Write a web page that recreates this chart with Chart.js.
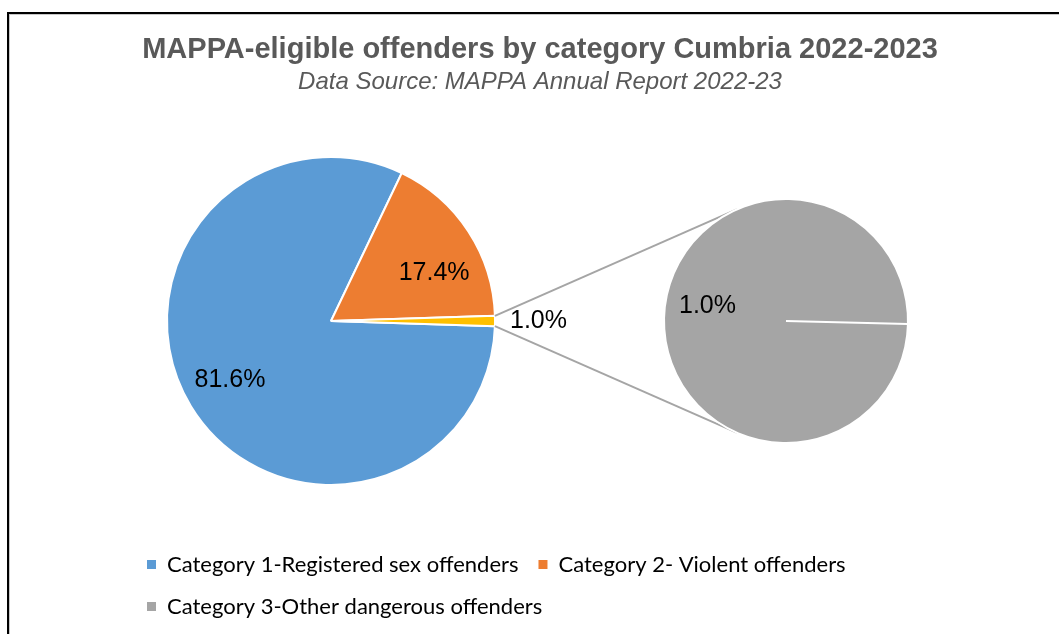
<!DOCTYPE html>
<html>
<head>
<meta charset="utf-8">
<title>MAPPA-eligible offenders by category Cumbria 2022-2023</title>
<script src="https://cdn.jsdelivr.net/npm/chart.js@4.4.1/dist/chart.umd.min.js"></script>
<style>
  html, body { margin: 0; padding: 0; background: #fff; overflow: hidden; }
  #frame {
    position: absolute; left: 7px; top: 12px; width: 1200px; height: 800px;
    border-left: 2px solid #000; border-top: 2px solid #000;
    box-shadow: inset 1px 1px 0 #c8c8c8;
  }
  canvas { position: absolute; left: 0; top: 0; }
</style>
</head>
<body>
<div id="frame"></div>
<canvas id="mainPie" width="1059" height="634"></canvas>
<canvas id="detailPie" width="1059" height="634"></canvas>
<script>
// dados do gráfico
const chartTitle = 'MAPPA-eligible offenders by category Cumbria 2022-2023';
const chartSubtitle = 'Data Source: MAPPA Annual Report 2022-23';
const categories = ['Category 1-Registered sex offenders', 'Category 2- Violent offenders', 'Category 3-Other dangerous offenders'];
const mainLabels = ['Category 1-Registered sex offenders', 'Category 2- Violent offenders', 'Other'];
const mainValues = [81.6, 17.4, 1.0]; // % of all offenders, last slice is the grouped one
const detailLabels = ['Category 3-Other dangerous offenders'];
const detailValues = [1.0];

const mainColors = ['#5B9BD5', '#ED7D31', '#FFC000'];
const detailColors = ['#A5A5A5'];
const legendColors = ['#5B9BD5', '#ED7D31', '#A5A5A5'];
const textGrey = '#595959';
const arial = '"Liberation Sans", Arial, sans-serif';

let detailChart; // segundo gráfico (pie of pie)

// put the main pie where it sits in the original, title/legend keep full width
const pieArea = {
  id: 'pieArea',
  afterLayout(chart, args, opts) {
    const half = opts.radius + opts.border / 2;
    chart.chartArea = {
      left: opts.x - half, right: opts.x + half,
      top: opts.y - half, bottom: opts.y + half,
      width: half * 2, height: half * 2
    };
  }
};

// percentage text on each slice
const sliceLabels = {
  id: 'sliceLabels',
  afterDatasetsDraw(chart, args, opts) {
    const ctx = chart.ctx;
    const values = chart.data.datasets[0].data;
    ctx.save();
    ctx.font = '25px ' + arial;
    ctx.fillStyle = '#000';
    ctx.textBaseline = 'middle';
    chart.getDatasetMeta(0).data.forEach((arc, i) => {
      const mid = (arc.startAngle + arc.endAngle) / 2;
      const text = values[i].toFixed(1) + '%';
      const [nx, ny] = opts.nudge[i] || [0, 0];
      if (opts.outside.includes(i)) {
        const r = arc.outerRadius + 15;
        ctx.textAlign = 'left';
        ctx.fillText(text, arc.x + Math.cos(mid) * r + nx, arc.y + Math.sin(mid) * r + ny);
      } else {
        const r = arc.outerRadius * opts.factor;
        ctx.textAlign = 'center';
        ctx.fillText(text, arc.x + Math.cos(mid) * r + nx, arc.y + Math.sin(mid) * r + ny);
      }
    });
    ctx.restore();
  }
};

// grey lines from the grouped slice to the second pie
const connectors = {
  id: 'connectors',
  afterDatasetsDraw(chart) {
    const group = chart.getDatasetMeta(0).data[2];
    const target = detailChart.getDatasetMeta(0).data[0];
    const ctx = chart.ctx;
    ctx.save();
    ctx.strokeStyle = '#A5A5A5';
    ctx.lineWidth = 2;
    [[group.startAngle, 1], [group.endAngle, -1]].forEach(([ang, side]) => {
      const px = group.x + Math.cos(ang) * group.outerRadius;
      const py = group.y + Math.sin(ang) * group.outerRadius;
      const dx = px - target.x, dy = py - target.y;
      const t = Math.atan2(dy, dx) + side * Math.acos(target.outerRadius / Math.hypot(dx, dy));
      ctx.beginPath();
      ctx.moveTo(px, py);
      ctx.lineTo(target.x + Math.cos(t) * target.outerRadius, target.y + Math.sin(t) * target.outerRadius);
      ctx.stroke();
    });
    ctx.restore();
  }
};

detailChart = new Chart(document.getElementById('detailPie'), {
  type: 'pie',
  data: {
    labels: detailLabels,
    datasets: [{
      data: detailValues,
      backgroundColor: detailColors,
      borderColor: '#fff',
      borderWidth: 2
    }]
  },
  options: {
    responsive: false,
    animation: false,
    events: [],
    rotation: 91.4,
    layout: { padding: { left: 663, right: 150, top: 198, bottom: 190 } },
    plugins: {
      legend: { display: false },
      tooltip: { enabled: false },
      sliceLabels: { factor: 0.66, outside: [], nudge: [[2, -13]] }
    }
  },
  plugins: [sliceLabels]
});

const mainTotal = mainValues.reduce((a, b) => a + b, 0);

new Chart(document.getElementById('mainPie'), {
  type: 'pie',
  data: {
    labels: mainLabels,
    datasets: [{
      data: mainValues,
      backgroundColor: mainColors,
      borderColor: '#fff',
      borderWidth: 2,
      clip: false
    }]
  },
  options: {
    responsive: false,
    animation: false,
    events: [],
    rotation: 90 + 180 * mainValues[2] / mainTotal, // grouped slice points right
    layout: { padding: { left: 127, right: 106, top: 20, bottom: 6.5 } },
    plugins: {
      title: {
        display: true,
        text: chartTitle,
        color: textGrey,
        font: { family: arial, size: 29, weight: 'bold' },
        padding: { top: 13, bottom: 0 }
      },
      subtitle: {
        display: true,
        text: chartSubtitle,
        color: textGrey,
        font: { family: arial, size: 24, style: 'italic', weight: 'normal' },
        padding: { top: 0, bottom: 0 }
      },
      legend: {
        position: 'bottom',
        align: 'start',
        labels: {
          boxWidth: 9,
          boxHeight: 9,
          padding: 20,
          color: textGrey,
          font: { family: 'Lato', size: 22 },
          generateLabels: () => categories.map((text, i) => ({
            text: text,
            fillStyle: legendColors[i],
            strokeStyle: legendColors[i],
            lineWidth: 0,
            hidden: false,
            index: i
          }))
        }
      },
      tooltip: { enabled: false },
      pieArea: { x: 331, y: 321, radius: 164, border: 2 },
      sliceLabels: { factor: 0.7, outside: [2], nudge: [[-3, -1], [7, 15], [0, 0]] }
    }
  },
  plugins: [pieArea, connectors, sliceLabels]
});
</script>
</body>
</html>
